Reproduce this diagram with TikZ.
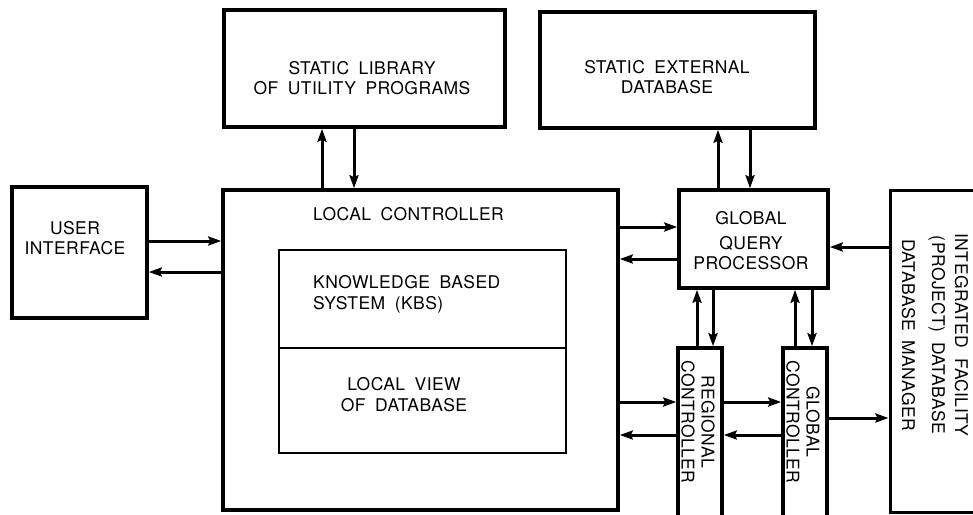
\documentclass[tikz,border=0pt]{standalone}
\usepackage{fontspec}
\setmainfont{TeX Gyre Heros}[WordSpace=1.8,LetterSpace=2.5]
\usetikzlibrary{arrows.meta}
\begin{document}
\begin{tikzpicture}[x=1pt,y=-1pt,
  box/.style={draw, rectangle, line width=3.5pt, inner sep=0pt},
  inbox/.style={draw, rectangle, line width=1.8pt, inner sep=0pt},
  lbl/.style={inner sep=0pt, align=center, font=\fontsize{17.5}{20}\selectfont},
  arr/.style={line width=3pt, -{Stealth[length=13pt,width=9pt,inset=2pt]}}]
\useasboundingbox (0,0) rectangle (973,514);
\clip (0,0) rectangle (973,514);

% blocks
\node[box, minimum width=281pt, minimum height=117pt] (lib) at (364.5,68.5) {};
\node[box, minimum width=275pt, minimum height=116pt] (sed) at (677.5,70) {};
\node[box, minimum width=135pt, minimum height=131pt] (ui) at (79.5,252.5) {};
\node[box, minimum width=395pt, minimum height=320pt] (lc) at (420.5,350) {};
\node[inbox, minimum width=287pt, minimum height=98pt] (kbs) at (422.5,299) {};
\node[inbox, minimum width=287pt, minimum height=105pt] (lvd) at (422.5,400.5) {};
\node[box, minimum width=149pt, minimum height=98pt] (gqp) at (753.5,239) {};
\node[box, minimum width=44pt, minimum height=182pt] (rc) at (700,439) {};
\node[box, minimum width=44pt, minimum height=182pt] (gc) at (805,439) {};
\node[box, line width=3pt, minimum width=120pt, minimum height=322pt] (ifdb) at (950,351) {};

% labels
\node[lbl, anchor=north] (libtxt) at (362,61.5) {STATIC LIBRARY\\OF UTILITY PROGRAMS};
\node[lbl, anchor=north] (sedtxt) at (667,60.5) {STATIC EXTERNAL\\DATABASE};
\node[lbl, anchor=north] (uitxt) at (75,221.5) {USER\\INTERFACE};
\node[lbl, anchor=north west] (lctxt) at (313,207.5) {LOCAL CONTROLLER};
\node[lbl, anchor=north west, align=left] (kbstxt) at (313,275.5) {KNOWLEDGE BASED\\[1pt]SYSTEM (KBS)};
\node[lbl, anchor=north] (lvdtxt) at (404,377.5) {LOCAL VIEW\\[1pt]OF DATABASE};
\node[lbl, anchor=north] (gqptxt) at (751,211.5) {GLOBAL\\[5pt]QUERY\\PROCESSOR};
\node[lbl, rotate=-90] (rctxt) at (698,422) {REGIONAL\\CONTROLLER};
\node[lbl, rotate=-90] (gctxt) at (803,422) {GLOBAL\\CONTROLLER};
\node[lbl, rotate=-90] (ifdbtxt) at (935,335) {INTEGRATED FACILITY\\[3pt](PROJECT) DATABASE\\[10pt]DATABASE MANAGER};

% columns and rows of the connectors
\coordinate (libup) at (322,0);
\coordinate (libdn) at (354,0);
\coordinate (sedup) at (718,0);
\coordinate (seddn) at (750,0);
\coordinate (rcup) at (697,0);
\coordinate (rcdn) at (713,0);
\coordinate (gcup) at (795,0);
\coordinate (gcdn) at (812,0);
\coordinate (uiin) at (0,241);
\coordinate (uiout) at (0,272);
\coordinate (gqpin) at (0,227);
\coordinate (gqpout) at (0,259);
\coordinate (ifdbq) at (0,247);
\coordinate (rcin) at (0,402);
\coordinate (rcout) at (0,435);
\coordinate (gcifdb) at (0,418);

% connectors
\draw[arr] (lc.north -| libup) -- (lib.south -| libup);
\draw[arr] (lib.south -| libdn) -- (lc.north -| libdn);
\draw[arr] (ui.east |- uiin) -- (lc.west |- uiin);
\draw[arr] (lc.west |- uiout) -- (ui.east |- uiout);
\draw[arr] (lc.east |- gqpin) -- (gqp.west |- gqpin);
\draw[arr] (gqp.west |- gqpout) -- (lc.east |- gqpout);
\draw[arr] (gqp.north -| sedup) -- (sed.south -| sedup);
\draw[arr] (sed.south -| seddn) -- (gqp.north -| seddn);
\draw[arr] (ifdb.west |- ifdbq) -- (gqp.east |- ifdbq);
\draw[arr] (rc.north -| rcup) -- (gqp.south -| rcup);
\draw[arr] (gqp.south -| rcdn) -- (rc.north -| rcdn);
\draw[arr] (gc.north -| gcup) -- (gqp.south -| gcup);
\draw[arr] (gqp.south -| gcdn) -- (gc.north -| gcdn);
\draw[arr] (lc.east |- rcin) -- (rc.west |- rcin);
\draw[arr] (rc.west |- rcout) -- (lc.east |- rcout);
\draw[arr] (rc.east |- rcin) -- (gc.west |- rcin);
\draw[arr] (gc.west |- rcout) -- (rc.east |- rcout);
\draw[arr] (gc.east |- gcifdb) -- (ifdb.west |- gcifdb);
\end{tikzpicture}
\end{document}
